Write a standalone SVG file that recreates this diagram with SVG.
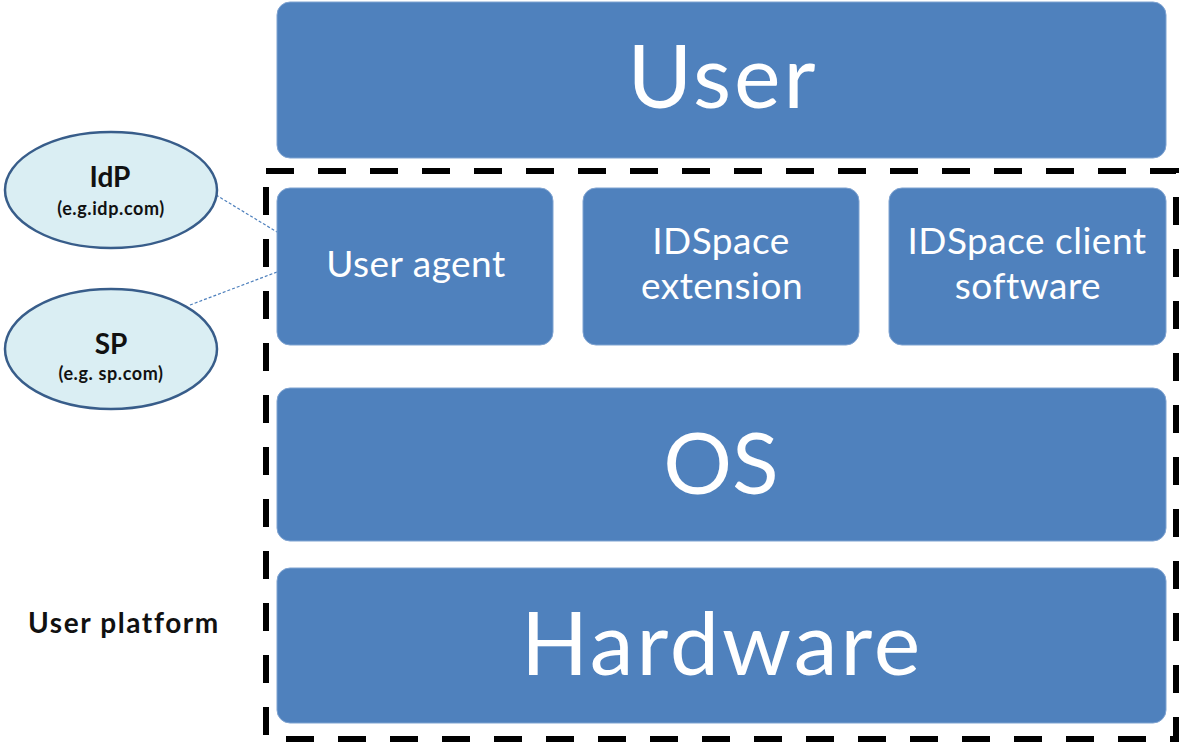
<svg xmlns="http://www.w3.org/2000/svg" width="1182" height="744" viewBox="0 0 1182 744">
<style>
.box{fill:#4F81BD;stroke:#7FA3D1;stroke-width:1}
.wt{fill:#FFFFFF;font-family:Lato,"Open Sans",sans-serif;text-anchor:middle}
.big{font-size:88px;letter-spacing:3px}
.mid{font-size:37px;letter-spacing:0.5px}
.ell{fill:#DAEEF3;stroke:#385D8A;stroke-width:2.5}
.bt{fill:#111111;font-family:Lato,"Open Sans",sans-serif;font-weight:bold;text-anchor:middle}
.conn{stroke:#4F81BD;stroke-width:1.2;stroke-dasharray:3 2;fill:none}
</style>
<rect x="0" y="0" width="1182" height="744" fill="#FFFFFF"/>
<rect id="platform-border" x="266" y="171" width="910" height="568" fill="none" stroke="#000000" stroke-width="6" stroke-dasharray="28 24"/>
<g id="connectors">
<line class="conn" x1="216" y1="195" x2="277" y2="232"/>
<line class="conn" x1="190" y1="305" x2="277" y2="272"/>
</g>
<g id="user">
<rect class="box" x="277" y="2" width="889" height="156" rx="13"/>
<text class="wt big" x="723" y="108">User</text>
</g>
<g id="user-agent">
<rect class="box" x="277" y="188" width="276" height="157" rx="13"/>
<text class="wt mid" x="416" y="277">User agent</text>
</g>
<g id="idspace-extension">
<rect class="box" x="583" y="188" width="276" height="157" rx="13"/>
<text class="wt mid" x="721" y="254">IDSpace</text>
<text class="wt mid" x="722" y="299">extension</text>
</g>
<g id="idspace-client">
<rect class="box" x="889" y="188" width="277" height="157" rx="13"/>
<text class="wt mid" x="1027" y="254">IDSpace client</text>
<text class="wt mid" x="1028" y="299">software</text>
</g>
<g id="os">
<rect class="box" x="277" y="388" width="889" height="153" rx="13"/>
<text class="wt" x="721" y="494" font-size="86">OS</text>
</g>
<g id="hardware">
<rect class="box" x="277" y="568" width="889" height="155" rx="13"/>
<text class="wt big" x="722" y="675">Hardware</text>
</g>
<g id="idp">
<ellipse class="ell" cx="111" cy="190" rx="106" ry="58"/>
<text class="bt" x="110" y="187" font-size="28">IdP</text>
<text class="bt" x="111" y="215" font-size="18" letter-spacing="0.6">(e.g.idp.com)</text>
</g>
<g id="sp">
<ellipse class="ell" cx="111" cy="349" rx="106" ry="60"/>
<text class="bt" x="111" y="354" font-size="28">SP</text>
<text class="bt" x="111" y="380" font-size="18" letter-spacing="0.6">(e.g. sp.com)</text>
</g>
<g id="user-platform-label">
<text class="bt" x="124" y="633" font-size="28" letter-spacing="1.6">User platform</text>
</g>
</svg>
